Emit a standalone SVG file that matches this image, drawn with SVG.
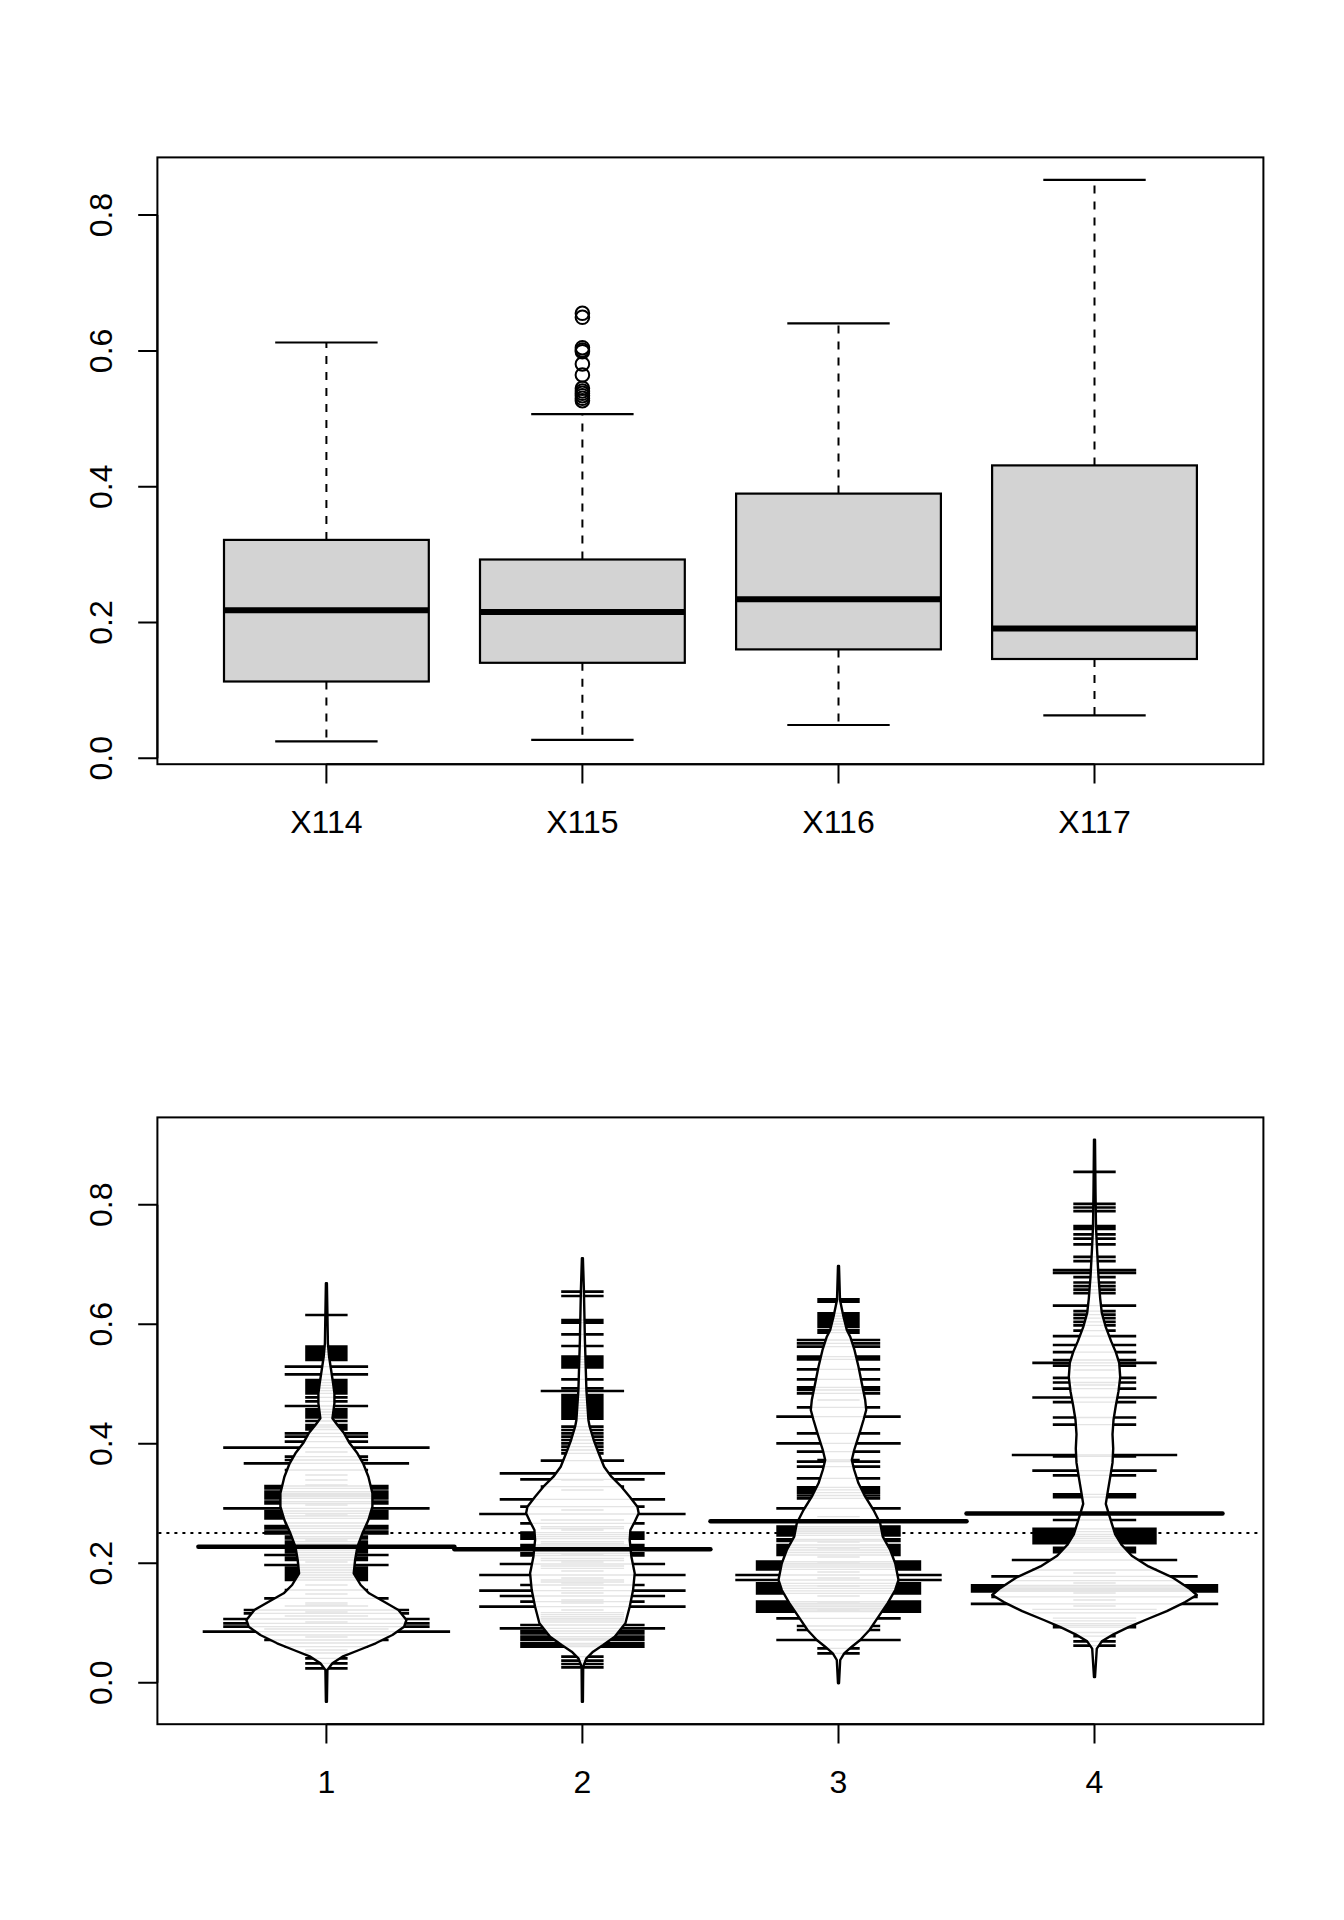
<svg xmlns="http://www.w3.org/2000/svg" xmlns:xlink="http://www.w3.org/1999/xlink" width="1344" height="1920" viewBox="0 0 1344 1920">
<style>
.frame{fill:none;stroke:#000;stroke-width:2}
.ax{stroke:#000;stroke-width:2;fill:none}
.lab{font-family:"Liberation Sans",Arial,Helvetica,sans-serif;font-size:32px;fill:#000}
.box{fill:#d3d3d3;stroke:#000;stroke-width:2.2}
.med{stroke:#000;stroke-width:6}
.wh{stroke:#000;stroke-width:2;stroke-dasharray:8 8}
.st{stroke:#000;stroke-width:2.2}
.out{fill:none;stroke:#000;stroke-width:2}
.bfill{fill:#fff;stroke:none}
.bedge{fill:none;stroke:#000;stroke-width:2.4;stroke-linejoin:round}
.mean{stroke:#000;stroke-width:4.5;stroke-linecap:round}
.dot{stroke:#000;stroke-width:2;stroke-dasharray:3 5}
.blk{stroke:#000;stroke-width:2.7}
.gry{stroke:#e4e4e4;stroke-width:1.3}
</style>
<defs>
<path id="p1" d="M326.9 1283.3L327.9 1343.3L329.1 1356.7L331.1 1370L333.1 1383.3L334.4 1393.3L334.4 1403.3L333.1 1413.3L332.4 1418.3L337.4 1425L344.1 1433.3L349.7 1443.3L357.4 1453.3L363.1 1463.3L368.4 1476.7L372.4 1493.3L372.4 1506.7L368.4 1520L362.4 1533.3L357.4 1546.7L355.1 1560L353.7 1573.3L360.7 1585L369.1 1593.3L384.1 1601.7L398.4 1610L406.4 1620L404.1 1626.7L392.4 1635L375.7 1643.3L359.1 1650L342.4 1656.7L332.4 1663.3L327.4 1670L326.9 1701.7L325.9 1701.7L325.4 1670L320.4 1663.3L310.4 1656.7L293.7 1650L277.1 1643.3L260.4 1635L248.7 1626.7L246.4 1620L254.4 1610L268.7 1601.7L283.7 1593.3L292.1 1585L299.1 1573.3L297.7 1560L295.4 1546.7L290.4 1533.3L284.4 1520L280.4 1506.7L280.4 1493.3L284.4 1476.7L289.7 1463.3L295.4 1453.3L303.1 1443.3L308.7 1433.3L315.4 1425L320.4 1418.3L319.7 1413.3L318.4 1403.3L318.4 1393.3L319.7 1383.3L321.7 1370L323.7 1356.7L324.9 1343.3L325.9 1283.3Z"/>
<path id="p2" d="M582.9 1258.3L583.9 1290L584.9 1340L586.4 1390L588.4 1420L589.7 1426.7L593.7 1440L598.7 1453.3L604.1 1466.7L611.4 1476.7L621.4 1486.7L629.7 1496.7L637.4 1506.7L638.7 1513.3L634.7 1521.7L630.4 1530L629.7 1540L631.4 1556.7L634.7 1573.3L633.1 1590L629.7 1606.7L625.4 1623.3L614.7 1636.7L603.1 1645L593.1 1651.7L586.4 1658.3L583.2 1666.7L582.9 1701.7L581.9 1701.7L581.6 1666.7L578.4 1658.3L571.7 1651.7L561.7 1645L550.1 1636.7L539.4 1623.3L535.1 1606.7L531.7 1590L530.1 1573.3L533.4 1556.7L535.1 1540L534.4 1530L530.1 1521.7L526.1 1513.3L527.4 1506.7L535.1 1496.7L543.4 1486.7L553.4 1476.7L560.7 1466.7L566.1 1453.3L571.1 1440L575.1 1426.7L576.4 1420L578.4 1390L579.9 1340L580.9 1290L581.9 1258.3Z"/>
<path id="p3" d="M839 1266L840 1300L843.5 1316.7L846.8 1330L850.2 1336.7L854.5 1350L858.5 1366.7L861.8 1383.3L865.2 1400L866.2 1410L863.5 1420L859.5 1433.3L854.2 1450L851.8 1460L854.2 1470L858.5 1483.3L865.2 1496.7L873.5 1510L880.2 1523.3L882.8 1536.7L890.2 1550L895.2 1563.3L898.5 1580L895.2 1590L887.5 1603.3L878.5 1616.7L869.5 1630L860.2 1640L851.8 1646.7L844.2 1653.3L840.2 1660L839 1683.3L838 1683.3L836.8 1660L832.8 1653.3L825.2 1646.7L816.8 1640L807.5 1630L798.5 1616.7L789.5 1603.3L781.8 1590L778.5 1580L781.8 1563.3L786.8 1550L794.2 1536.7L796.8 1523.3L803.5 1510L811.8 1496.7L818.5 1483.3L822.8 1470L825.2 1460L822.8 1450L817.5 1433.3L813.5 1420L810.8 1410L811.8 1400L815.2 1383.3L818.5 1366.7L822.5 1350L826.8 1336.7L830.2 1330L833.5 1316.7L837 1300L838 1266Z"/>
<path id="p4" d="M1095 1139.6L1095.5 1191.4L1096 1227L1097 1248.6L1098.5 1277L1100.2 1298.6L1101.8 1312.9L1105.8 1327.1L1111.2 1341.4L1115.8 1352.1L1119.2 1362.9L1120.2 1377.1L1118.5 1391.4L1115.8 1405.7L1113.5 1420L1112.5 1434.3L1113.2 1448.6L1112.5 1462.9L1110.2 1477.1L1107.8 1491.4L1105.8 1503.9L1108.5 1512.9L1111.8 1523.6L1115.2 1534.3L1121.8 1545L1131.8 1555.7L1148.5 1566.4L1171.8 1577.1L1188.5 1587.9L1196.8 1595L1185.2 1602.1L1166.8 1611.1L1145.2 1620L1128.5 1627.1L1113.5 1634.3L1101.8 1641.4L1096.8 1648.6L1095 1677.1L1094 1677.1L1092.2 1648.6L1087.2 1641.4L1075.5 1634.3L1060.5 1627.1L1043.8 1620L1022.2 1611.1L1003.8 1602.1L992.2 1595L1000.5 1587.9L1017.2 1577.1L1040.5 1566.4L1057.2 1555.7L1067.2 1545L1073.8 1534.3L1077.2 1523.6L1080.5 1512.9L1083.2 1503.9L1081.2 1491.4L1078.8 1477.1L1076.5 1462.9L1075.8 1448.6L1076.5 1434.3L1075.5 1420L1073.2 1405.7L1070.5 1391.4L1068.8 1377.1L1069.8 1362.9L1073.2 1352.1L1077.8 1341.4L1083.2 1327.1L1087.2 1312.9L1088.8 1298.6L1090.5 1277L1092 1248.6L1093 1227L1093.5 1191.4L1094 1139.6Z"/>
<clipPath id="c1"><use xlink:href="#p1"/></clipPath>
<clipPath id="c2"><use xlink:href="#p2"/></clipPath>
<clipPath id="c3"><use xlink:href="#p3"/></clipPath>
<clipPath id="c4"><use xlink:href="#p4"/></clipPath>
<g id="L1" fill="none">
<path d="M305.2 1315h42.4M305.2 1346.7h42.4M305.2 1349.3h42.4M305.2 1352h42.4M305.2 1354.7h42.4M305.2 1357.3h42.4M305.2 1360h42.4M305.2 1380h42.4M305.2 1382.7h42.4M305.2 1385.3h42.4M305.2 1388h42.4M305.2 1390.7h42.4M305.2 1393.3h42.4M305.2 1397.3h42.4M305.2 1401.3h42.4M305.2 1409.3h42.4M305.2 1412h42.4M305.2 1414.7h42.4M305.2 1417.3h42.4M305.2 1421h42.4M305.2 1425h42.4M305.2 1427h42.4M305.2 1429.5h42.4M305.2 1452h42.4M305.2 1475h42.4M305.2 1480h42.4M305.2 1485h42.4M305.2 1505h42.4M305.2 1515h42.4M305.2 1540h42.4M305.2 1545h42.4M305.2 1562h42.4M305.2 1585h42.4M305.2 1594h42.4M305.2 1603h42.4M305.2 1605h42.4M305.2 1612h42.4M305.2 1622h42.4M305.2 1637h42.4M305.2 1650h42.4M305.2 1653h42.4M305.2 1658.3h42.4M305.2 1663.3h42.4M305.2 1668.3h42.4"/>
<path d="M284.7 1366.7h83.4M284.7 1374.3h83.4M284.7 1406h83.4M284.7 1433.3h83.4M284.7 1436.7h83.4M284.7 1441.7h83.4M284.7 1456.7h83.4M284.7 1460h83.4M284.7 1470h83.4M284.7 1523h83.4M284.7 1536.7h83.4M284.7 1538.5h83.4M284.7 1541.7h83.4M284.7 1544h83.4M284.7 1550h83.4M284.7 1552.5h83.4M284.7 1557.5h83.4M284.7 1560h83.4M284.7 1567.5h83.4M284.7 1570h83.4M284.7 1572.5h83.4M284.7 1575h83.4M284.7 1577.5h83.4M284.7 1580h83.4M284.7 1590h83.4M284.7 1606h83.4M284.7 1616h83.4M284.7 1643h83.4M284.7 1646.7h83.4"/>
<path d="M264.2 1486h124.4M264.2 1488.3h124.4M264.2 1491.7h124.4M264.2 1493.5h124.4M264.2 1495h124.4M264.2 1496.5h124.4M264.2 1498.3h124.4M264.2 1501.7h124.4M264.2 1503.5h124.4M264.2 1511h124.4M264.2 1513.3h124.4M264.2 1516h124.4M264.2 1518.3h124.4M264.2 1526h124.4M264.2 1528.3h124.4M264.2 1531.7h124.4M264.2 1533.5h124.4M264.2 1555h124.4M264.2 1565h124.4M264.2 1598.3h124.4M264.2 1629h124.4M264.2 1635h124.4M264.2 1640h124.4"/>
<path d="M243.7 1463.3h165.4M243.7 1610h165.4M243.7 1613.3h165.4"/>
<path d="M223.2 1447.7h206.4M223.2 1508.3h206.4M223.2 1619h206.4M223.2 1623.3h206.4M223.2 1626.7h206.4"/>
<path d="M202.7 1631.7h247.4"/>
</g>
<g id="L2" fill="none">
<path d="M561.2 1291.7h42.4M561.2 1296h42.4M561.2 1320h42.4M561.2 1322.7h42.4M561.2 1334.3h42.4M561.2 1346h42.4M561.2 1356.7h42.4M561.2 1359.3h42.4M561.2 1362h42.4M561.2 1364.7h42.4M561.2 1367.3h42.4M561.2 1379.3h42.4M561.2 1388.3h42.4M561.2 1395h42.4M561.2 1397.3h42.4M561.2 1400h42.4M561.2 1402.7h42.4M561.2 1405.3h42.4M561.2 1408h42.4M561.2 1410.7h42.4M561.2 1413.3h42.4M561.2 1416h42.4M561.2 1418.7h42.4M561.2 1426.7h42.4M561.2 1430h42.4M561.2 1433.3h42.4M561.2 1436.7h42.4M561.2 1440h42.4M561.2 1443.3h42.4M561.2 1446.7h42.4M561.2 1450h42.4M561.2 1453.3h42.4M561.2 1480h42.4M561.2 1490h42.4M561.2 1510h42.4M561.2 1530h42.4M561.2 1548h42.4M561.2 1555h42.4M561.2 1562h42.4M561.2 1571h42.4M561.2 1578h42.4M561.2 1583h42.4M561.2 1588h42.4M561.2 1593h42.4M561.2 1600h42.4M561.2 1603h42.4M561.2 1610h42.4M561.2 1656.7h42.4M561.2 1660.7h42.4M561.2 1664h42.4M561.2 1667.3h42.4"/>
<path d="M540.7 1391h83.4M540.7 1460.7h83.4M540.7 1486.7h83.4M540.7 1520h83.4M540.7 1526.7h83.4M540.7 1528.5h83.4M540.7 1541.7h83.4M540.7 1543.5h83.4M540.7 1558.3h83.4M540.7 1560.5h83.4M540.7 1566h83.4M540.7 1568.3h83.4M540.7 1580h83.4M540.7 1582h83.4M540.7 1612.7h83.4M540.7 1614.7h83.4M540.7 1616.7h83.4M540.7 1618.3h83.4M540.7 1620h83.4M540.7 1622h83.4"/>
<path d="M520.2 1479.3h124.4M520.2 1506.7h124.4M520.2 1523.3h124.4M520.2 1532.7h124.4M520.2 1534.7h124.4M520.2 1536.7h124.4M520.2 1538.7h124.4M520.2 1545h124.4M520.2 1547h124.4M520.2 1549h124.4M520.2 1553.3h124.4M520.2 1555.5h124.4M520.2 1585h124.4M520.2 1601.7h124.4M520.2 1625h124.4M520.2 1631h124.4M520.2 1633.3h124.4M520.2 1636.7h124.4M520.2 1638.5h124.4M520.2 1640h124.4M520.2 1643.3h124.4M520.2 1645h124.4M520.2 1646.7h124.4"/>
<path d="M499.7 1473.3h165.4M499.7 1499.3h165.4M499.7 1564h165.4M499.7 1596h165.4M499.7 1628.3h165.4"/>
<path d="M479.2 1514h206.4M479.2 1575h206.4M479.2 1590.7h206.4M479.2 1606.7h206.4"/>
</g>
<g id="L3" fill="none">
<path d="M817.3 1299.3h42.4M817.3 1301.7h42.4M817.3 1313.3h42.4M817.3 1316h42.4M817.3 1318.7h42.4M817.3 1321.3h42.4M817.3 1324h42.4M817.3 1326.7h42.4M817.3 1330h42.4M817.3 1332.7h42.4M817.3 1400h42.4M817.3 1460h42.4M817.3 1516.7h42.4M817.3 1542h42.4M817.3 1548h42.4M817.3 1557h42.4M817.3 1563h42.4M817.3 1572h42.4M817.3 1578h42.4M817.3 1586h42.4M817.3 1596h42.4M817.3 1603h42.4M817.3 1610h42.4M817.3 1648.3h42.4M817.3 1653.3h42.4"/>
<path d="M796.8 1340h83.4M796.8 1343.3h83.4M796.8 1346.7h83.4M796.8 1356.7h83.4M796.8 1359.3h83.4M796.8 1369.3h83.4M796.8 1379.3h83.4M796.8 1387.3h83.4M796.8 1390h83.4M796.8 1393.3h83.4M796.8 1407.3h83.4M796.8 1433.3h83.4M796.8 1451.7h83.4M796.8 1461.7h83.4M796.8 1466.7h83.4M796.8 1478.3h83.4M796.8 1487.3h83.4M796.8 1489.8h83.4M796.8 1492.7h83.4M796.8 1495.5h83.4M796.8 1498.3h83.4M796.8 1626h83.4M796.8 1630h83.4"/>
<path d="M776.3 1416.7h124.4M776.3 1443.3h124.4M776.3 1508.3h124.4M776.3 1526.7h124.4M776.3 1528.3h124.4M776.3 1530h124.4M776.3 1531.7h124.4M776.3 1533.3h124.4M776.3 1535.3h124.4M776.3 1539.3h124.4M776.3 1541h124.4M776.3 1545h124.4M776.3 1547.5h124.4M776.3 1550h124.4M776.3 1552.5h124.4M776.3 1555h124.4M776.3 1618.3h124.4M776.3 1640h124.4"/>
<path d="M755.8 1561.7h165.4M755.8 1563.3h165.4M755.8 1565h165.4M755.8 1567h165.4M755.8 1569.3h165.4M755.8 1583.3h165.4M755.8 1585.8h165.4M755.8 1588.3h165.4M755.8 1590.8h165.4M755.8 1593.3h165.4M755.8 1601.7h165.4M755.8 1603.3h165.4M755.8 1605h165.4M755.8 1606.7h165.4M755.8 1608.3h165.4M755.8 1610h165.4M755.8 1611.7h165.4"/>
<path d="M735.3 1575h206.4M735.3 1580h206.4"/>
</g>
<g id="L4" fill="none">
<path d="M1073.3 1171.8h42.4M1073.3 1203.9h42.4M1073.3 1207.5h42.4M1073.3 1211.1h42.4M1073.3 1226.1h42.4M1073.3 1228.9h42.4M1073.3 1234.3h42.4M1073.3 1238.6h42.4M1073.3 1244.3h42.4M1073.3 1256.8h42.4M1073.3 1261.1h42.4M1073.3 1277.1h42.4M1073.3 1282.5h42.4M1073.3 1286.1h42.4M1073.3 1289.6h42.4M1073.3 1293.2h42.4M1073.3 1311.1h42.4M1073.3 1314.6h42.4M1073.3 1318.2h42.4M1073.3 1321.8h42.4M1073.3 1325.4h42.4M1073.3 1330.7h42.4M1073.3 1370h42.4M1073.3 1385h42.4M1073.3 1573h42.4M1073.3 1583h42.4M1073.3 1593h42.4M1073.3 1600h42.4M1073.3 1606h42.4M1073.3 1632.5h42.4M1073.3 1636.1h42.4M1073.3 1641.4h42.4M1073.3 1645.7h42.4"/>
<path d="M1052.8 1270h83.4M1052.8 1272.9h83.4M1052.8 1305.7h83.4M1052.8 1336.1h83.4M1052.8 1345h83.4M1052.8 1352.1h83.4M1052.8 1360h83.4M1052.8 1365.7h83.4M1052.8 1377.9h83.4M1052.8 1382.5h83.4M1052.8 1388.6h83.4M1052.8 1402.1h83.4M1052.8 1417.5h83.4M1052.8 1424.6h83.4M1052.8 1456.4h83.4M1052.8 1475.4h83.4M1052.8 1494.3h83.4M1052.8 1497.1h83.4M1052.8 1520h83.4M1052.8 1547.9h83.4M1052.8 1549.9h83.4M1052.8 1552.1h83.4M1052.8 1618.2h83.4M1052.8 1620.9h83.4M1052.8 1623.6h83.4M1052.8 1625.3h83.4M1052.8 1627.1h83.4"/>
<path d="M1032.3 1362.9h124.4M1032.3 1397.5h124.4M1032.3 1470.7h124.4M1032.3 1528.9h124.4M1032.3 1531.6h124.4M1032.3 1534.3h124.4M1032.3 1536.5h124.4M1032.3 1538.6h124.4M1032.3 1540.9h124.4M1032.3 1543.2h124.4M1032.3 1570h124.4M1032.3 1609.3h124.4M1032.3 1612.9h124.4"/>
<path d="M1011.8 1455h165.4M1011.8 1560h165.4M1011.8 1580.7h165.4"/>
<path d="M991.3 1576.4h206.4M991.3 1596.8h206.4"/>
<path d="M970.8 1585.4h247.4M970.8 1587h247.4M970.8 1588.6h247.4M970.8 1590h247.4M970.8 1591.4h247.4M970.8 1603.9h247.4"/>
</g>
</defs>
<rect width="1344" height="1920" fill="#fff"/>

<g id="boxplot">
<g id="axes-top">
<rect class="frame" x="157.4" y="157.4" width="1106" height="606.8"/>
<path class="ax" d="M157.4 758.3V215.1M138.2 758.3H157.4M138.2 622.5H157.4M138.2 486.7H157.4M138.2 350.9H157.4M138.2 215.1H157.4"/>
<path class="ax" d="M326.4 764.2H1094.5M326.4 764.2V783.4M582.4 764.2V783.4M838.5 764.2V783.4M1094.5 764.2V783.4"/>
<g class="lab" text-anchor="middle">
<text transform="translate(112,758.3) rotate(-90)">0.0</text>
<text transform="translate(112,622.5) rotate(-90)">0.2</text>
<text transform="translate(112,486.7) rotate(-90)">0.4</text>
<text transform="translate(112,350.9) rotate(-90)">0.6</text>
<text transform="translate(112,215.1) rotate(-90)">0.8</text>
<text x="326.4" y="833">X114</text>
<text x="582.4" y="833">X115</text>
<text x="838.5" y="833">X116</text>
<text x="1094.5" y="833">X117</text>
</g>
</g>
<g id="box-X114">
<line class="wh" x1="326.4" y1="539.9" x2="326.4" y2="342.5"/>
<line class="wh" x1="326.4" y1="681.5" x2="326.4" y2="741.3"/>
<line class="st" x1="275.2" y1="342.5" x2="377.6" y2="342.5"/>
<line class="st" x1="275.2" y1="741.3" x2="377.6" y2="741.3"/>
<rect class="box" x="224" y="539.9" width="204.8" height="141.6"/>
<line class="med" x1="224" y1="610.2" x2="428.8" y2="610.2"/>
</g>
<g id="box-X115">
<line class="wh" x1="582.4" y1="559.5" x2="582.4" y2="414.2"/>
<line class="wh" x1="582.4" y1="662.8" x2="582.4" y2="739.8"/>
<line class="st" x1="531.2" y1="414.2" x2="633.6" y2="414.2"/>
<line class="st" x1="531.2" y1="739.8" x2="633.6" y2="739.8"/>
<rect class="box" x="480" y="559.5" width="204.8" height="103.3"/>
<line class="med" x1="480" y1="612.1" x2="684.8" y2="612.1"/>
<g class="out">
<circle cx="582.4" cy="313.3" r="6.8"/><circle cx="582.4" cy="317.3" r="6.8"/>
<circle cx="582.4" cy="347.7" r="6.8"/><circle cx="582.4" cy="350" r="6.8"/><circle cx="582.4" cy="351.7" r="6.8"/>
<circle cx="582.4" cy="364" r="6.8"/><circle cx="582.4" cy="375" r="6.8"/>
<circle cx="582.4" cy="388.3" r="6.8"/><circle cx="582.4" cy="391" r="6.8"/><circle cx="582.4" cy="393.3" r="6.8"/>
<circle cx="582.4" cy="395.7" r="6.8"/><circle cx="582.4" cy="398.3" r="6.8"/><circle cx="582.4" cy="400.7" r="6.8"/>
</g>
</g>
<g id="box-X116">
<line class="wh" x1="838.5" y1="493.6" x2="838.5" y2="323.3"/>
<line class="wh" x1="838.5" y1="649.4" x2="838.5" y2="725"/>
<line class="st" x1="787.3" y1="323.3" x2="889.7" y2="323.3"/>
<line class="st" x1="787.3" y1="725" x2="889.7" y2="725"/>
<rect class="box" x="736.1" y="493.6" width="204.8" height="155.8"/>
<line class="med" x1="736.1" y1="599.2" x2="940.9" y2="599.2"/>
</g>
<g id="box-X117">
<line class="wh" x1="1094.5" y1="465.4" x2="1094.5" y2="179.9"/>
<line class="wh" x1="1094.5" y1="659" x2="1094.5" y2="715.4"/>
<line class="st" x1="1043.3" y1="179.9" x2="1145.7" y2="179.9"/>
<line class="st" x1="1043.3" y1="715.4" x2="1145.7" y2="715.4"/>
<rect class="box" x="992.1" y="465.4" width="204.8" height="193.6"/>
<line class="med" x1="992.1" y1="628.5" x2="1196.9" y2="628.5"/>
</g>
</g>

<g id="beanplot">
<g id="axes-bottom">
<rect class="frame" x="157.4" y="1117.4" width="1106" height="606.8"/>
<path class="ax" d="M157.4 1682.8V1204.8M138.2 1682.8H157.4M138.2 1563.3H157.4M138.2 1443.8H157.4M138.2 1324.3H157.4M138.2 1204.8H157.4"/>
<path class="ax" d="M326.4 1724.2H1094.5M326.4 1724.2V1743.4M582.4 1724.2V1743.4M838.5 1724.2V1743.4M1094.5 1724.2V1743.4"/>
<g class="lab" text-anchor="middle">
<text transform="translate(112,1682.8) rotate(-90)">0.0</text>
<text transform="translate(112,1563.3) rotate(-90)">0.2</text>
<text transform="translate(112,1443.8) rotate(-90)">0.4</text>
<text transform="translate(112,1324.3) rotate(-90)">0.6</text>
<text transform="translate(112,1204.8) rotate(-90)">0.8</text>
<text x="326.4" y="1793">1</text>
<text x="582.4" y="1793">2</text>
<text x="838.5" y="1793">3</text>
<text x="1094.5" y="1793">4</text>
</g>
</g>
<line id="overall-mean" class="dot" x1="158.4" y1="1533" x2="1262.4" y2="1533"/>
<g id="bean1">
<use xlink:href="#L1" class="blk"/>
<use xlink:href="#p1" class="bfill"/>
<use xlink:href="#L1" class="gry" clip-path="url(#c1)"/>
<use xlink:href="#p1" class="bedge"/>
</g>
<g id="bean2">
<use xlink:href="#L2" class="blk"/>
<use xlink:href="#p2" class="bfill"/>
<use xlink:href="#L2" class="gry" clip-path="url(#c2)"/>
<use xlink:href="#p2" class="bedge"/>
</g>
<g id="bean3">
<use xlink:href="#L3" class="blk"/>
<use xlink:href="#p3" class="bfill"/>
<use xlink:href="#L3" class="gry" clip-path="url(#c3)"/>
<use xlink:href="#p3" class="bedge"/>
</g>
<g id="bean4">
<use xlink:href="#L4" class="blk"/>
<use xlink:href="#p4" class="bfill"/>
<use xlink:href="#L4" class="gry" clip-path="url(#c4)"/>
<use xlink:href="#p4" class="bedge"/>
</g>
<g id="bean-means">
<line class="mean" x1="198.4" y1="1546.7" x2="454.4" y2="1546.7"/>
<line class="mean" x1="454.4" y1="1549.3" x2="710.4" y2="1549.3"/>
<line class="mean" x1="710.5" y1="1521.3" x2="966.5" y2="1521.3"/>
<line class="mean" x1="966.5" y1="1513.5" x2="1222.5" y2="1513.5"/>
</g>
</g>
</svg>
